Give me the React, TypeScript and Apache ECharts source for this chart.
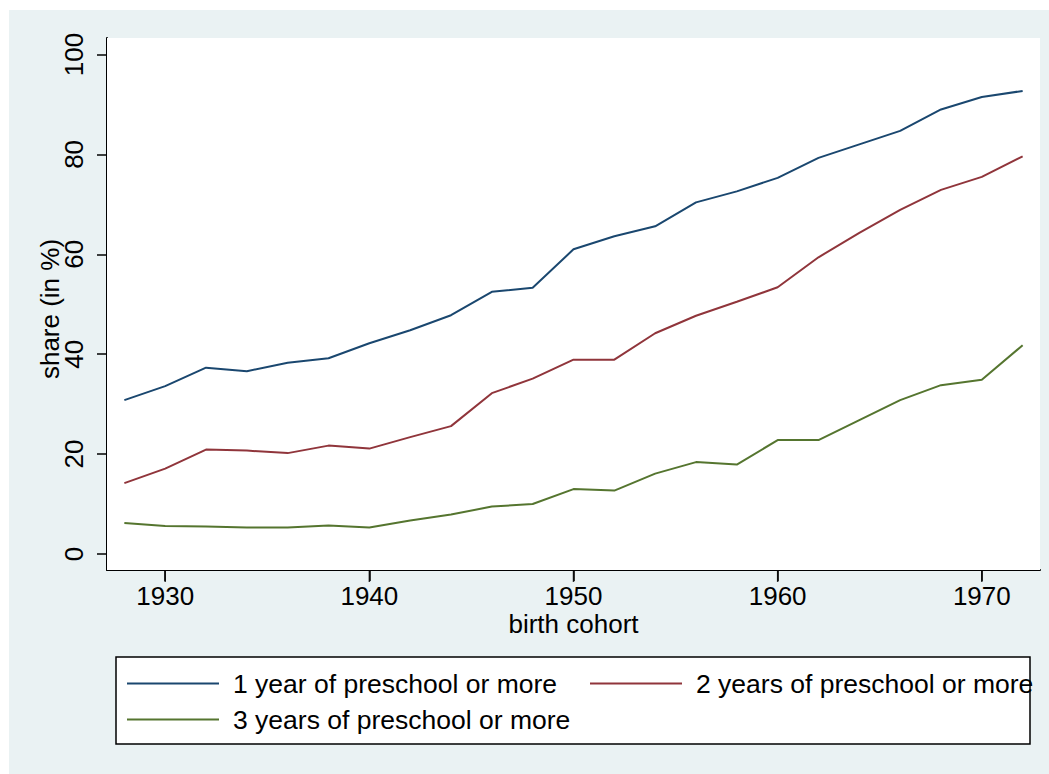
import React, { useEffect, useRef } from "react";
import * as echarts from "echarts";

const years = [1928, 1930, 1932, 1934, 1936, 1938, 1940, 1942, 1944, 1946, 1948, 1950, 1952, 1954, 1956, 1958, 1960, 1962, 1964, 1966, 1968, 1970, 1972];
const oneYear = [30.8, 33.6, 37.3, 36.6, 38.3, 39.2, 42.2, 44.8, 47.8, 52.5, 53.3, 61.0, 63.6, 65.6, 70.4, 72.6, 75.3, 79.3, 82.0, 84.7, 89.0, 91.5, 92.7];
const twoYears = [14.2, 17.1, 20.9, 20.7, 20.2, 21.7, 21.1, 23.4, 25.6, 32.2, 35.1, 38.9, 38.9, 44.2, 47.7, 50.5, 53.4, 59.4, 64.3, 68.9, 72.9, 75.5, 79.6];
const threeYears = [6.2, 5.6, 5.5, 5.3, 5.3, 5.7, 5.3, 6.7, 7.9, 9.5, 10.0, 13.0, 12.7, 16.1, 18.4, 17.9, 22.8, 22.8, 26.8, 30.8, 33.8, 34.9, 41.8];
const seriesNames = ["1 year of preschool or more", "2 years of preschool or more", "3 years of preschool or more"];
const seriesColors = ["#1a476f", "#90353b", "#55752f"];
const xTicks = [1930, 1940, 1950, 1960, 1970];
const yTicks = [0, 20, 40, 60, 80, 100];
const xMin = 1927.15;
const xMax = 1972.85;
const yMin = -3.2;
const yMax = 103.3;

const FONT = "Liberation Sans, Arial, Helvetica, sans-serif";

export default function App() {
  const ref = useRef<HTMLDivElement>(null);
  useEffect(() => {
    document.body.style.margin = "0";
    const chart = echarts.init(ref.current!, null, { renderer: "svg" });
    const allData = [oneYear, twoYears, threeYears];
    const legendBase = {
      icon: "rect",
      itemWidth: 92,
      itemHeight: 2,
      padding: 0,
      selectedMode: false,
      textStyle: { fontSize: 26.5, fontFamily: FONT, color: "#000", lineHeight: 26, padding: [0, 0, 0, 9] },
    };
    chart.setOption({
      animation: false,
      backgroundColor: "#ffffff",
      textStyle: { fontFamily: FONT },
      graphic: [
        { type: "rect", z: -10, shape: { x: 9, y: 10, width: 1040, height: 764 }, style: { fill: "#eaf2f3" } },
        { type: "rect", z: 0, shape: { x: 116, y: 657, width: 914, height: 87 }, style: { fill: "#ffffff", stroke: "#000", lineWidth: 1.5 } },
      ],
      grid: { left: 107, top: 38, right: 9, bottom: 204, show: true, backgroundColor: "#ffffff", borderWidth: 0, z: 1 },
      legend: [
        { ...legendBase, data: [seriesNames[0]], left: 127, top: 670 },
        { ...legendBase, data: [seriesNames[1]], left: 590, top: 670 },
        { ...legendBase, data: [seriesNames[2]], left: 127, top: 706 },
      ],
      xAxis: {
        type: "value",
        min: xMin,
        max: xMax,
        name: "birth cohort",
        nameLocation: "middle",
        nameGap: 41,
        nameMoveOverlap: false,
        nameTextStyle: { fontSize: 26, color: "#000", fontFamily: FONT },
        axisLine: { show: true, onZero: false, lineStyle: { color: "#000", width: 2 } },
        axisTick: { show: true, length: 11, lineStyle: { color: "#000", width: 1.5 }, customValues: xTicks },
        axisLabel: { fontSize: 26, color: "#000", margin: 13, customValues: xTicks, formatter: (v: number) => String(v) },
        splitLine: { show: false },
      },
      yAxis: {
        type: "value",
        min: yMin,
        max: yMax,
        name: "share (in %)",
        nameLocation: "middle",
        nameGap: 44,
        nameMoveOverlap: false,
        nameTextStyle: { fontSize: 26, color: "#000", fontFamily: FONT, padding: [0, 10, 0, 0] },
        axisLine: { show: true, onZero: false, lineStyle: { color: "#000", width: 2 } },
        axisTick: { show: true, length: 10, lineStyle: { color: "#000", width: 1.5 }, customValues: yTicks },
        axisLabel: { fontSize: 26, color: "#000", margin: 20, rotate: 90, customValues: yTicks },
        splitLine: { show: true, lineStyle: { color: "#eaf2f3", width: 2 } },
      },
      series: [
        ...allData.map((d, i) => ({
          name: seriesNames[i],
          type: "line",
          data: years.map((y, j) => [y, d[j]]),
          symbol: "none",
          color: seriesColors[i],
          lineStyle: { color: seriesColors[i], width: 2 },
          z: 3,
        })),
        {
          name: "xticks",
          type: "scatter",
          data: xTicks.map((t) => [t, yMin]),
          symbol: "rect",
          symbolSize: [1.5, 11],
          symbolOffset: [0, 6.5],
          itemStyle: { color: "#000" },
          clip: false,
          silent: true,
          z: 5,
        },
      ],
    });
    return () => chart.dispose();
  }, []);
  return <div ref={ref} style={{ width: 1049, height: 774 }} />;
}
